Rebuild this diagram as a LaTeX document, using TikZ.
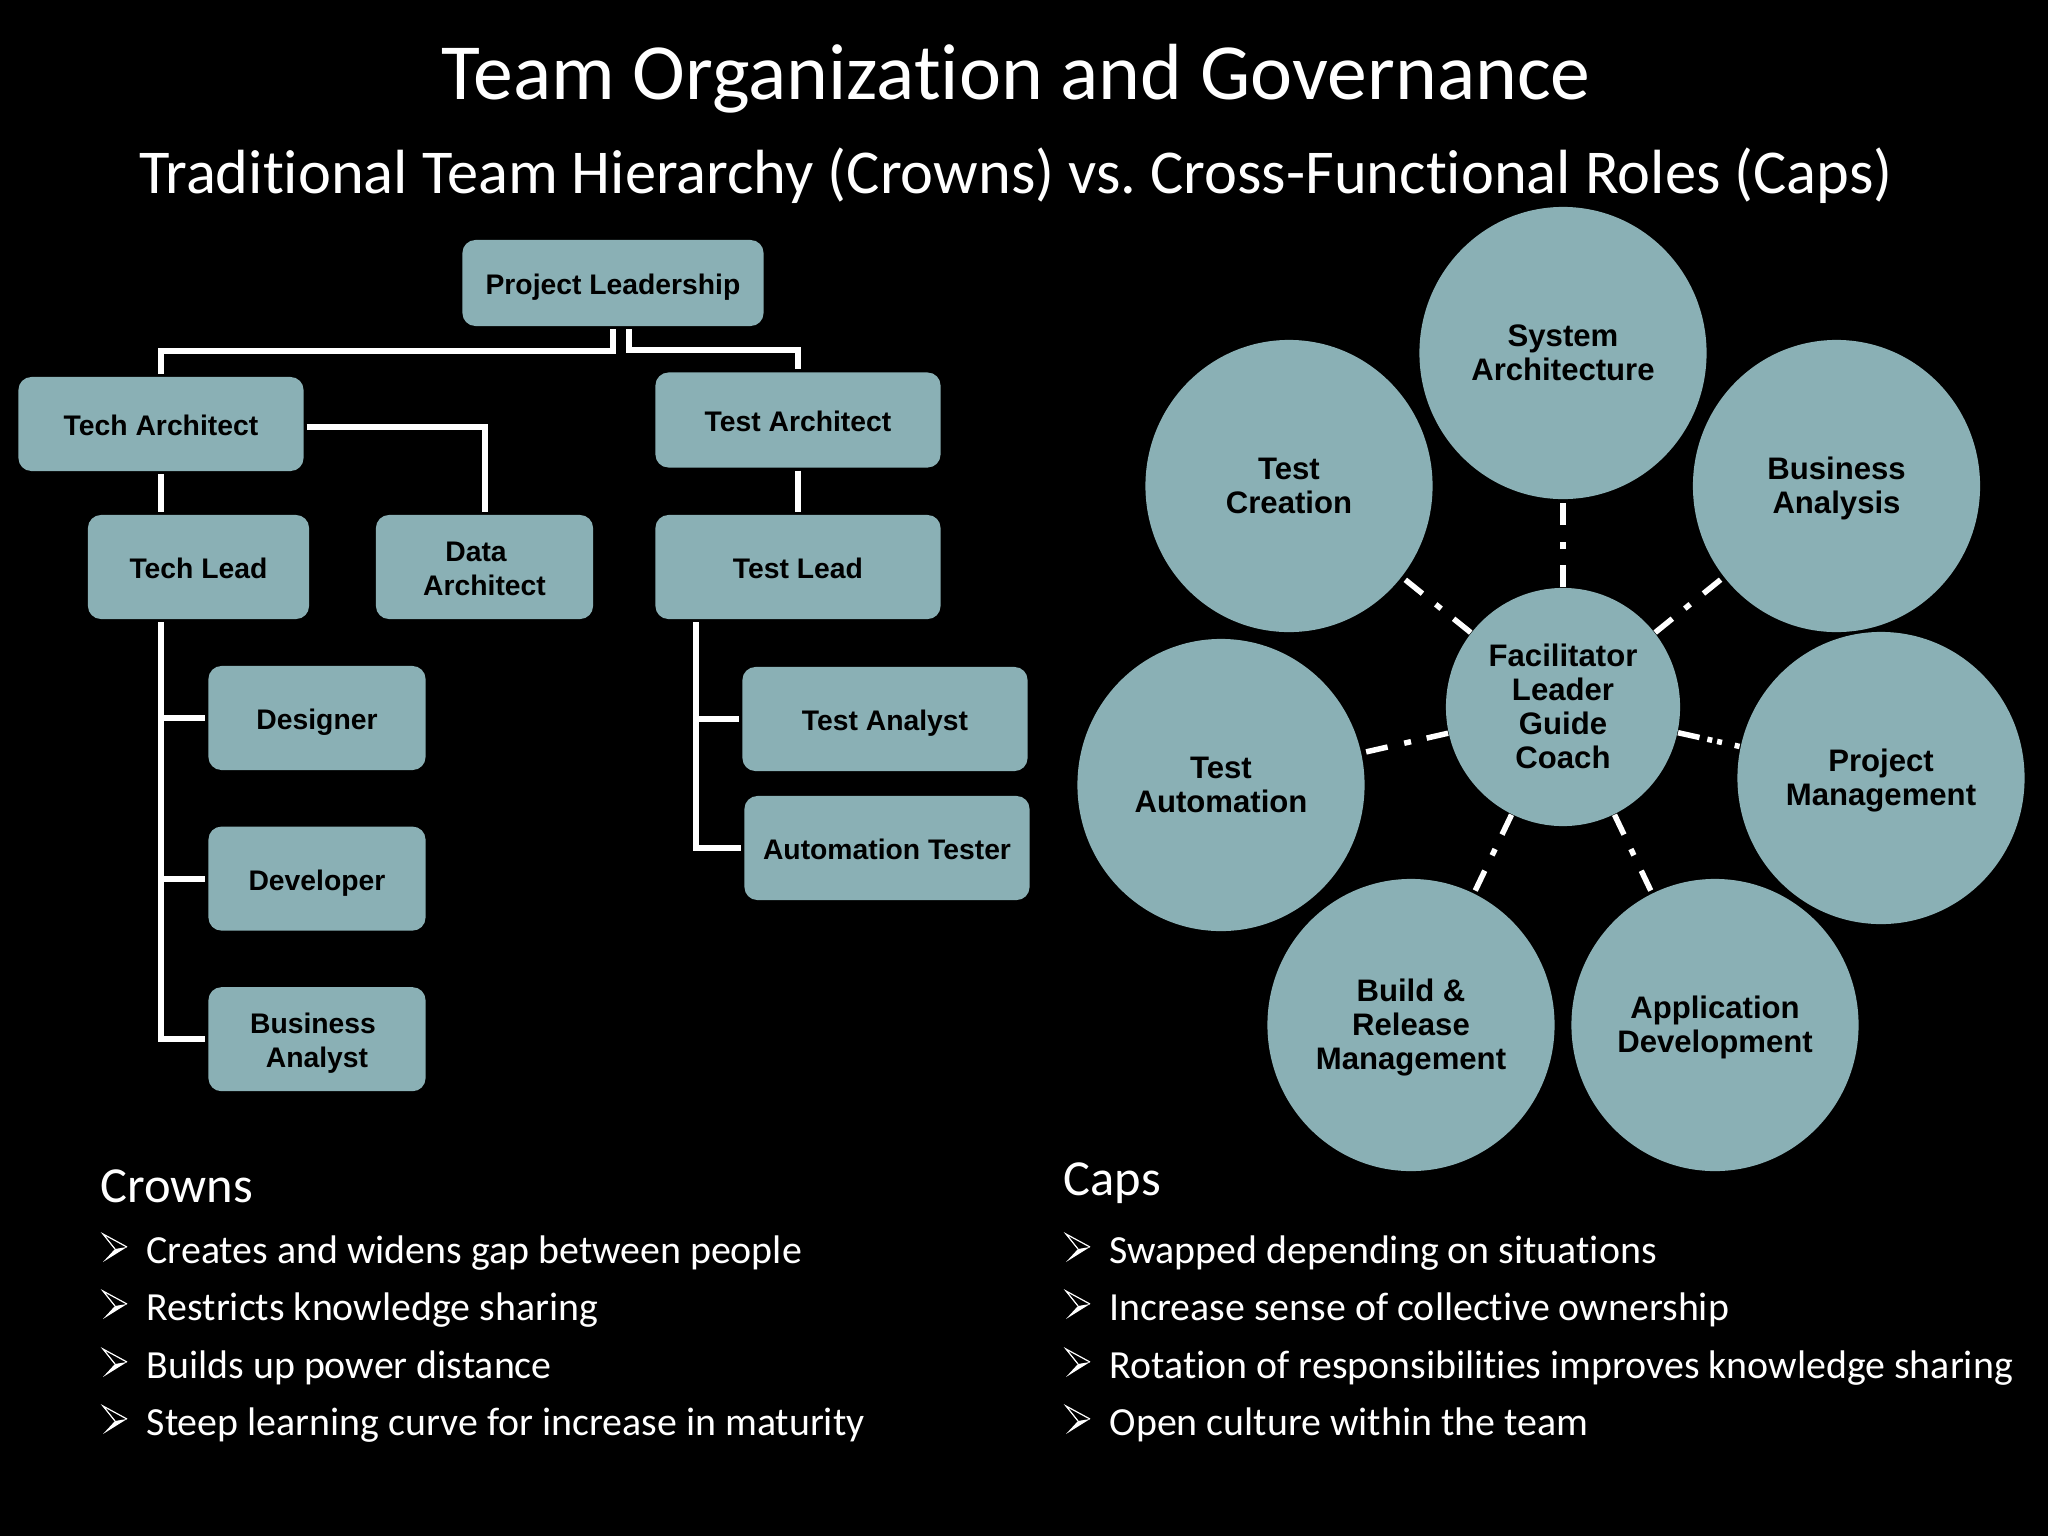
\documentclass[tikz,border=0pt]{standalone}
\usepackage{fontspec}
\setmainfont{Liberation Sans}
\newfontfamily\slidefont[Ligatures=NoCommon]{Carlito}
\usetikzlibrary{shapes.geometric, arrows}
\definecolor{tealbox}{HTML}{8AB0B5}
\newcommand{\topstrut}{\rule{0pt}{9.5pt}}
\newcommand{\rolestrut}{\rule{0pt}{8.7pt}}
\tikzstyle{block} = [rectangle, rounded corners=0.13cm, fill=tealbox, text=black, font=\bfseries\fontsize{8.05}{9.65}\selectfont,
    align=center, outer sep=0.03cm, inner sep=0pt, minimum height=1.04cm, minimum width=2.17cm,
    execute at begin node=\topstrut, execute at end node=\strut]
\tikzstyle{wideblock} = [block, minimum width=2.85cm]
\tikzstyle{role} = [ellipse, fill=tealbox, text=black, font=\bfseries\fontsize{8.85}{9.65}\selectfont,
    align=center, inner sep=0pt, minimum width=2.87cm, minimum height=2.92cm,
    execute at end node=\strut]
\tikzstyle{conn} = [white, line width=0.06cm]
\tikzstyle{dashlink} = [white, line width=0.055cm, dash pattern=on 0.22cm off 0.16cm on 0.07cm off 0.17cm]
\tikzstyle{dotlink} = [white, line width=0.055cm, dash pattern=on 0.22cm off 0.08cm on 0.05cm off 0.05cm on 0.05cm off 0.13cm on 0.05cm off 0.3cm]
\tikzstyle{heading} = [text=white, anchor=base, font=\slidefont, inner sep=0pt]
\tikzstyle{point} = [text=white, anchor=base west, font=\slidefont\fontsize{11.34}{13}\selectfont, inner sep=0pt]
\tikzset{arrowtick/.pic={
    \draw [white, line width=0.012cm, line join=miter] (12,15) -- (0,0) -- (24,13);
    \fill [white] (12,15) -- (24,13) -- (0,28) -- cycle;
}}
\frenchspacing

\begin{document}
\begin{tikzpicture}[x=0.01cm, y=-0.01cm, node distance=1.605cm]

    \fill [black] (0,0) rectangle (2048,1536);

    % Titles
    \node (title) [heading] at (1016,99) {\fontsize{22.65}{27}\selectfont Team Organization and Governance};
    \node (subtitle) [heading] at (1016,193) {\fontsize{17.75}{21}\selectfont Traditional Team Hierarchy (Crowns) vs. Cross-Functional Roles (Caps)};

    % Hierarchy blocks
    \node (lead) [block, minimum width=3.01cm, minimum height=0.86cm] at (613,283) {Project Leadership};
    \node (techarch) [wideblock, minimum height=0.94cm] at (161,424) {Tech Architect};
    \node (testarch) [wideblock, minimum height=0.95cm] at (798,420) {Test Architect};
    \node (techlead) [block, minimum width=2.21cm] at (198.5,567) {Tech Lead};
    \node (dataarch) [block] at (484.5,567) {\topstrut Data\hspace*{0.17cm}\\Architect};
    \node (testlead) [wideblock] at (798,567) {Test Lead};
    \node (designer) [block] at (317,718) {Designer};
    \node (developer) [block, below of=designer] {Developer};
    \node (bizanalyst) [block, below of=developer] {\topstrut Business\hspace*{0.08cm}\\Analyst};
    \node (testanalyst) [wideblock] at (885,719) {Test Analyst};
    \node (autotester) [wideblock] at (887,848) {Automation Tester};
    \coordinate (testtrunk) at (696,622);

    % Hierarchy connectors
    \draw [conn] (lead.south) -- ++(0,22) -| (techarch.north);
    \draw [conn] ([xshift=0.16cm]lead.south) -- ++(0,21) -| (testarch.north);
    \draw [conn] ([yshift=-0.03cm]techarch.east) -| (dataarch.north);
    \draw [conn] (techarch.south) -- (techarch.south |- techlead.north);
    \draw [conn] (testarch.south) -- (testlead.north);
    \draw [conn] (techarch.south |- techlead.south) |- (bizanalyst.west);
    \foreach \who in {designer, developer}
        \draw [conn] (techarch.south |- \who.west) -- (\who.west);
    \draw [conn] (testtrunk) |- (autotester.west);
    \draw [conn] (testtrunk |- testanalyst.west) -- (testanalyst.west);

    % Role circles
    \node (hub) [role, minimum width=2.34cm, minimum height=2.38cm] at (1563,707) {\rolestrut Facilitator\\Leader\\Guide\\Coach};
    \node (sysarch) [role] at (1563,353) {\rolestrut System\\Architecture};
    \node (testcreate) [role] at (1289,486) {\rolestrut Test\\Creation};
    \node (bizanalysis) [role] at (1836.5,486) {\rolestrut Business\\Analysis};
    \node (testauto) [role] at (1221,785) {\rolestrut Test\\Automation};
    \node (projmgmt) [role] at (1881,778) {\rolestrut Project\\Management};
    \node (buildrel) [role] at (1411,1025) {\rolestrut Build \&\\Release\\Management};
    \node (appdev) [role] at (1715,1025) {\rolestrut Application\\Development};

    % Role links
    \foreach \who in {sysarch, testcreate, bizanalysis, testauto, buildrel, appdev}
        \draw [dashlink] (hub) -- (\who);
    \draw [dotlink] (hub) -- (projmgmt);

    % Bullet arrows
    \foreach \ypos in {1234,1291,1349,1406} {
        \pic at (103,\ypos) {arrowtick};
        \pic at (1066,\ypos) {arrowtick};
    }

    % Crowns text
    \node (crowns) [heading, anchor=base west] at (100,1202) {\fontsize{14.35}{17}\selectfont Crowns};
    \node (cr1) [point] at (146,1263) {Creates and widens gap between people};
    \node (cr2) [point] at (146,1320) {Restricts knowledge sharing};
    \node (cr3) [point] at (146,1378) {Builds up power distance};
    \node (cr4) [point] at (146,1435) {Steep learning curve for increase in maturity};

    % Caps text
    \node (caps) [heading, anchor=base west] at (1063,1195) {\fontsize{14.35}{17}\selectfont Caps};
    \node (cap1) [point] at (1109,1263) {Swapped depending on situations};
    \node (cap2) [point] at (1109,1320) {Increase sense of collective ownership};
    \node (cap3) [point] at (1109,1378) {Rotation of responsibilities improves knowledge sharing};
    \node (cap4) [point] at (1109,1435) {Open culture within the team};

\end{tikzpicture}
\end{document}
